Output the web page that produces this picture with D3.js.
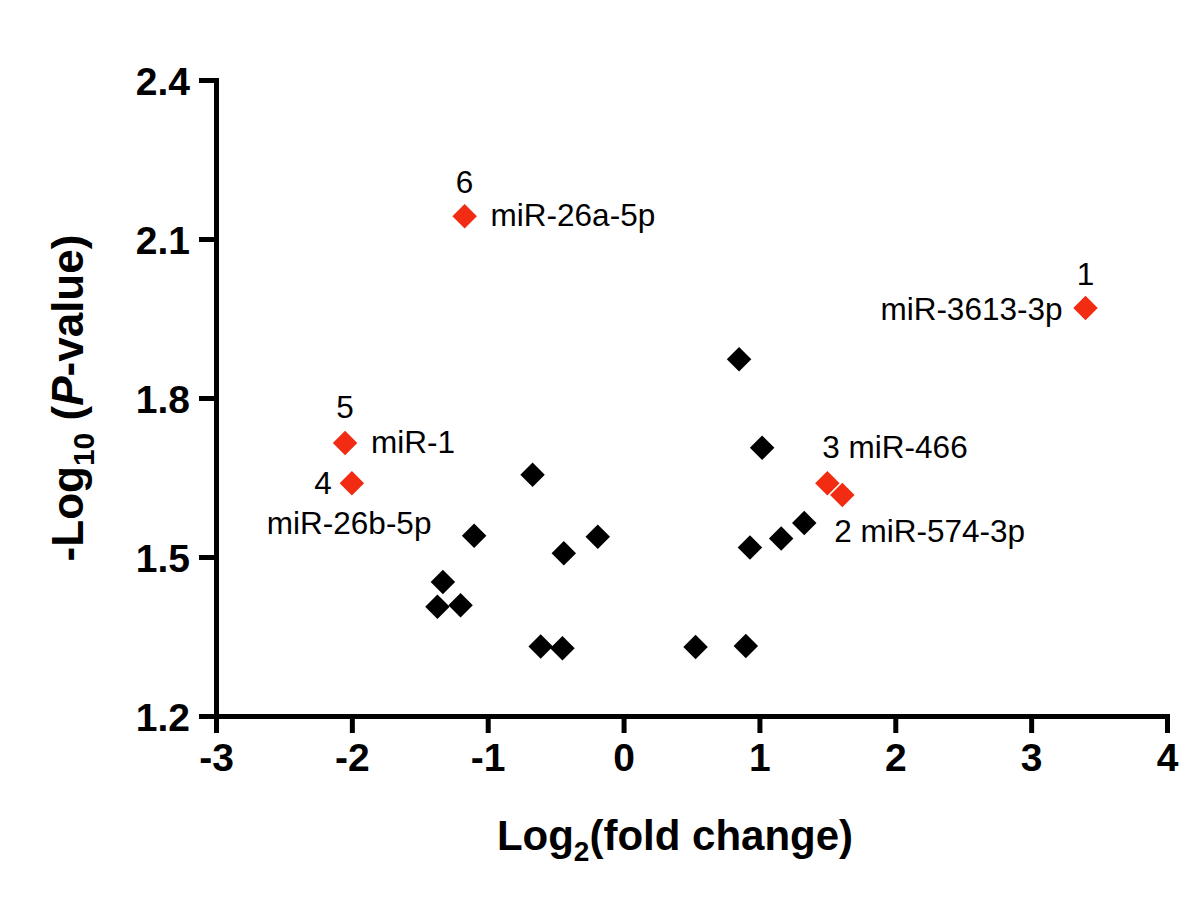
<!DOCTYPE html>
<html>
<head>
<meta charset="utf-8">
<script src="https://cdn.jsdelivr.net/npm/d3@7"></script>
<style>
  html, body { margin: 0; padding: 0; background: #fff; }
  svg { display: block; }
  text { font-family: "Liberation Sans", Arial, sans-serif; }
</style>
</head>
<body>
<svg id="chart" width="1200" height="899"></svg>
<script>
// ---- data ----
const xTicks = [-3, -2, -1, 0, 1, 2, 3, 4];
const yTicks = [1.2, 1.5, 1.8, 2.1, 2.4];

// other miRNAs (black)
const otherLog2FC = [0.85, 1.02, 1.33, 1.16, 0.93, -0.67, -1.10, -0.44, -0.19, -1.33, -1.37, -1.20, -0.61, -0.45, 0.53, 0.90];
const otherNegLogP = [1.873, 1.706, 1.564, 1.535, 1.518, 1.655, 1.540, 1.507, 1.538, 1.453, 1.406, 1.409, 1.331, 1.328, 1.330, 1.332];

// highlighted miRNAs (red)
const hitRank = [1, 6, 5, 4, 3, 2];
const hitNames = ["miR-3613-3p", "miR-26a-5p", "miR-1", "miR-26b-5p", "miR-466", "miR-574-3p"];
const hitLog2FC = [3.40, -1.17, -2.05, -2.00, 1.50, 1.61];
const hitNegLogP = [1.970, 2.143, 1.715, 1.639, 1.639, 1.617];

// ---- layout (label placement relative to its point) ----
const labelLayout = {
  1: [{text: "num", dx: 0, dy: -23, anchor: "middle"}, {text: "name", dx: -23, dy: 12, anchor: "end"}],
  6: [{text: "num", dx: 0, dy: -23, anchor: "middle"}, {text: "name", dx: 26, dy: 10, anchor: "start"}],
  5: [{text: "num", dx: 0, dy: -25, anchor: "middle"}, {text: "name", dx: 26, dy: 10, anchor: "start"}],
  4: [{text: "num", dx: -20, dy: 11, anchor: "end"}, {text: "name", dx: -85, dy: 51, anchor: "start"}],
  3: [{text: "both", dx: -5, dy: -25, anchor: "start"}],
  2: [{text: "both", dx: -8, dy: 47, anchor: "start"}]
};

const svg = d3.select("#chart");
const x = d3.scaleLinear().domain([-3, 4]).range([216, 1167]);
const y = d3.scaleLinear().domain([1.2, 2.4]).range([716, 80]);

// axes
const yAxis = d3.axisLeft(y).tickValues(yTicks).tickFormat(d3.format(".1f")).tickSize(17).tickSizeOuter(0).tickPadding(9);
const xAxis = d3.axisBottom(x).tickValues(xTicks).tickFormat(d => d < 0 ? "-" + Math.abs(d) : d).tickSize(17).tickSizeOuter(0).tickPadding(10);

const gy = svg.append("g").attr("transform", `translate(${x(-3)},0)`).call(yAxis);
const gx = svg.append("g").attr("transform", `translate(0,${y(1.2)})`).call(xAxis);

[gx, gy].forEach(g => {
  g.select(".domain").attr("stroke", "#000").attr("stroke-width", 5).attr("stroke-linecap", "square");
  g.selectAll(".tick line").attr("stroke", "#000").attr("stroke-width", 5);
  g.selectAll(".tick text").attr("fill", "#000").style("font-size", "39px").style("font-weight", "bold")
    .style("font-family", "'Liberation Sans', Arial, sans-serif");
});
gy.selectAll(".tick text").attr("dy", "0.36em");

// axis titles
const xt = svg.append("text").attr("x", 675).attr("y", 850).attr("text-anchor", "middle")
  .style("font-size", "42px").style("font-weight", "bold").attr("fill", "#000");
xt.append("tspan").text("Log");
xt.append("tspan").text("2").style("font-size", "28px").attr("dy", 11);
xt.append("tspan").text("(fold change)").attr("dy", -11);

const yt = svg.append("text").attr("transform", `translate(83,${(y(1.2) + y(2.4)) / 2}) rotate(-90)`)
  .attr("text-anchor", "middle").style("font-size", "44px").style("font-weight", "bold").attr("fill", "#000");
yt.append("tspan").text("-Log");
yt.append("tspan").text("10").style("font-size", "30px").attr("dy", 11);
yt.append("tspan").text(" (").attr("dy", -11);
yt.append("tspan").text("P").style("font-style", "italic");
yt.append("tspan").text("-value)");

// points
const diamond = d3.symbol().type(d3.symbolSquare).size(300);
const others = otherLog2FC.map((v, i) => ({x: v, y: otherNegLogP[i]}));
const hits = hitLog2FC.map((v, i) => ({x: v, y: hitNegLogP[i], rank: hitRank[i], name: hitNames[i]}));

svg.append("g").selectAll("path").data(others).join("path")
  .attr("d", diamond)
  .attr("transform", d => `translate(${x(d.x)},${y(d.y)}) rotate(45)`)
  .attr("fill", "#000");

svg.append("g").selectAll("path").data(hits).join("path")
  .attr("d", diamond)
  .attr("transform", d => `translate(${x(d.x)},${y(d.y)}) rotate(45)`)
  .attr("fill", "#f22c12");

// labels
const lg = svg.append("g").style("font-size", "31.5px").attr("fill", "#000");
hits.forEach(d => {
  labelLayout[d.rank].forEach(l => {
    const t = l.text === "num" ? String(d.rank) : l.text === "name" ? d.name : d.rank + " " + d.name;
    lg.append("text").attr("x", x(d.x) + l.dx).attr("y", y(d.y) + l.dy)
      .attr("text-anchor", l.anchor).text(t);
  });
});
</script>
</body>
</html>
